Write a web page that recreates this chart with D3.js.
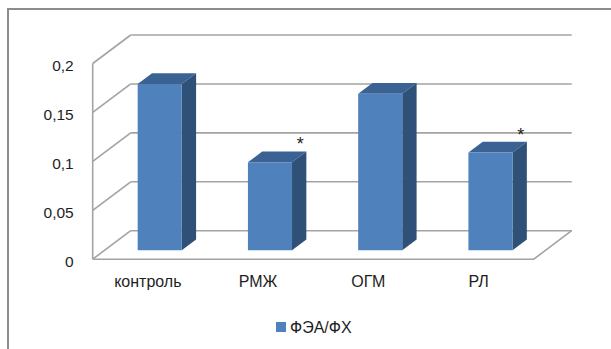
<!DOCTYPE html>
<html>
<head>
<meta charset="utf-8">
<script src="https://cdn.jsdelivr.net/npm/d3@7"></script>
<style>
  html, body { margin: 0; padding: 0; background: #fff; }
  svg { display: block; font-family: "Liberation Sans", Arial, sans-serif; }
</style>
</head>
<body>
<svg id="chart" width="611" height="349"></svg>
<script>
// Chart data
const categories = ["контроль", "РМЖ", "ОГМ", "РЛ"];
const values = [0.17, 0.09, 0.16, 0.10];
const marks = ["", "*", "", "*"];
const yTicks = [0, 0.05, 0.1, 0.15, 0.2];
const yTickLabels = ["0", "0,05", "0,1", "0,15", "0,2"];
const seriesName = "ФЭА/ФХ";

const svg = d3.select("#chart");

// Oblique 3D frame: back wall plus a depth vector pointing to the front plane
const back = { left: 130.7, right: 571.7, top: 35, bottom: 230.7 };
const depth = { dx: -38, dy: 28.5 };
const barFront = 0.687, barBack = 0.31;   // bar depth span as fractions of the full depth

const y = d3.scaleLinear().domain([0, 0.2]).range([back.bottom, back.top]);
const x = d3.scaleBand().domain(categories).range([back.left, back.right]).paddingInner(0.6).paddingOuter(0.3);
const xFront = d3.scaleBand().domain(categories).range([back.left + depth.dx, back.right + depth.dx]);

const P = (px, py, f) => [px + f * depth.dx, py + f * depth.dy];

const colors = { front: "#4f81bd", top: "#3a6393", side: "#2f5178", grid: "#a3a3a3", frame: "#8c8c8c", text: "#1e1e1e" };

// Outer chart frame
svg.append("path")
  .attr("d", "M8,349V9H611")
  .attr("fill", "none").attr("stroke", colors.frame).attr("stroke-width", 2);

const walls = svg.append("g").attr("fill", "none").attr("stroke", colors.grid).attr("stroke-width", 1.6);

// Back-wall gridlines and their continuation across the side wall
yTicks.forEach(t => {
  const yy = y(t);
  walls.append("line").attr("x1", back.left).attr("x2", back.right).attr("y1", yy).attr("y2", yy);
  const f = P(back.left, yy, 1);
  walls.append("line").attr("x1", back.left).attr("y1", yy).attr("x2", f[0]).attr("y2", f[1]);
});

// Front vertical edge of the side wall
const fTop = P(back.left, y(0.2), 1), fBot = P(back.left, y(0), 1);
walls.append("line").attr("x1", fTop[0]).attr("y1", fTop[1]).attr("x2", fBot[0]).attr("y2", fBot[1]);

// Floor front and right edges
const fr = P(back.right, y(0), 1);
walls.append("path").attr("d", `M${fBot[0]},${fBot[1]}H${fr[0]}L${back.right},${y(0)}`);

// Bars (top, side, front faces)
const bars = svg.append("g");
categories.forEach((c, i) => {
  const x0 = x(c), x1 = x(c) + x.bandwidth();
  const yv = y(values[i]), y0 = y(0);
  const ftl = P(x0, yv, barFront), ftr = P(x1, yv, barFront), fbr = P(x1, y0, barFront), fbl = P(x0, y0, barFront);
  const btl = P(x0, yv, barBack), btr = P(x1, yv, barBack), bbr = P(x1, y0, barBack);
  const poly = pts => "M" + pts.map(p => p.join(",")).join("L") + "Z";
  bars.append("path").attr("d", poly([ftl, ftr, btr, btl])).attr("fill", colors.top);
  bars.append("path").attr("d", poly([ftr, btr, bbr, fbr])).attr("fill", colors.side);
  bars.append("path").attr("d", poly([ftl, ftr, fbr, fbl])).attr("fill", colors.front);
  if (marks[i]) {
    bars.append("text")
      .attr("x", btr[0] - 6).attr("y", btr[1] - 1)
      .attr("text-anchor", "middle")
      .attr("font-size", 18).attr("fill", colors.text)
      .text(marks[i]);
  }
});

// Value axis on the front plane
const yAxis = d3.axisLeft(y).tickValues(yTicks)
  .tickFormat((d, i) => yTickLabels[i]).tickSize(0).tickPadding(19);
const ya = svg.append("g")
  .attr("transform", `translate(${fBot[0]},${depth.dy + 2.5})`)
  .call(yAxis);
ya.select(".domain").remove();
ya.selectAll("text").attr("font-size", 15.5).attr("fill", colors.text).attr("font-family", "Liberation Sans, Arial, sans-serif");

// Category axis on the front plane
const xAxis = d3.axisBottom(xFront).tickSize(0).tickPadding(0);
const xa = svg.append("g")
  .attr("transform", `translate(0,${276})`)
  .call(xAxis);
xa.select(".domain").remove();
xa.selectAll("text").attr("font-size", 16).attr("fill", colors.text).attr("font-family", "Liberation Sans, Arial, sans-serif");

// Legend
const lg = svg.append("g").attr("transform", "translate(276,322)");
lg.append("rect").attr("width", 10).attr("height", 10).attr("fill", colors.front);
lg.append("text").attr("x", 14).attr("y", 10.5).attr("font-size", 16).attr("fill", colors.text).text(seriesName);
</script>
</body>
</html>
